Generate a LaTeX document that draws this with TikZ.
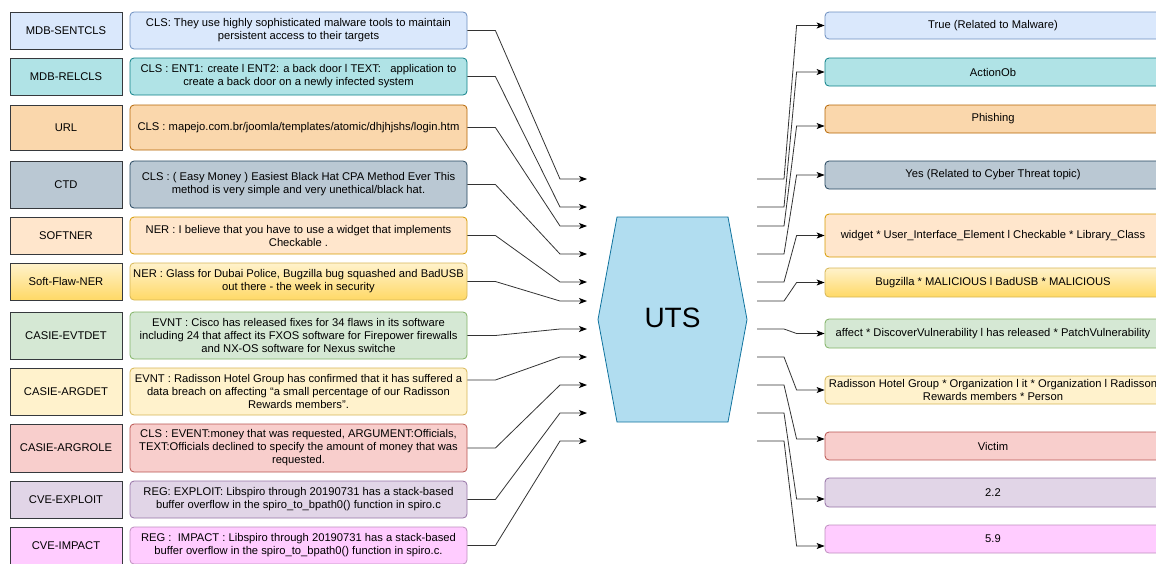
\documentclass[tikz,border=0pt]{standalone}
\usepackage{fontspec}
\setmainfont{Liberation Sans}
\usepackage{tikz}
\usetikzlibrary{arrows.meta, positioning, calc}
\definecolor{sentfill}{HTML}{DAE8FC}
\definecolor{sentline}{HTML}{6C8EBF}
\definecolor{relfill}{HTML}{B0E3E6}
\definecolor{relline}{HTML}{0E8088}
\definecolor{urlfill}{HTML}{FAD7AC}
\definecolor{urlline}{HTML}{B46504}
\definecolor{ctdfill}{HTML}{BAC8D3}
\definecolor{ctdline}{HTML}{23445D}
\definecolor{nerfill}{HTML}{FFE6CC}
\definecolor{nerline}{HTML}{D79B00}
\definecolor{flawtop}{HTML}{FFF2CC}
\definecolor{flawbottom}{HTML}{FFD966}
\definecolor{evtfill}{HTML}{D5E8D4}
\definecolor{evtline}{HTML}{82B366}
\definecolor{argfill}{HTML}{FFF2CC}
\definecolor{argline}{HTML}{D6B656}
\definecolor{rolefill}{HTML}{F8CECC}
\definecolor{roleline}{HTML}{B85450}
\definecolor{expfill}{HTML}{E1D5E7}
\definecolor{expline}{HTML}{9673A6}
\definecolor{impfill}{HTML}{FFCCFF}
\definecolor{impline}{HTML}{BF8FBF}
\definecolor{utsfill}{HTML}{B1DDF0}
\definecolor{utsline}{HTML}{10739E}
\definecolor{taskline}{HTML}{36393D}
\definecolor{linkgray}{HTML}{333333}
\newcommand{\boxfont}{\fontsize{11.2}{13}\selectfont}

\begin{document}
\begin{tikzpicture}[x=1pt, y=-1pt,
    taskbox/.style={
        draw=taskline,
        line width=0.8pt,
        minimum width=112pt,
        inner sep=0pt,
        font=\boxfont,
        align=center
    },
    samplebox/.style={
        line width=0.8pt,
        rounded corners=4pt,
        minimum width=337pt,
        inner sep=0pt,
        font=\boxfont,
        align=center
    },
    outbox/.style={
        line width=0.8pt,
        rounded corners=4pt,
        minimum width=336pt,
        inner sep=0pt,
        font=\boxfont,
        align=center
    },
    link/.style={
        draw=linkgray,
        line width=0.8pt,
        -{Stealth[length=8pt, width=6pt, inset=2pt, color=black]}
    }
]
\useasboundingbox (0,0) rectangle (1156,563);

% Task names
\node[taskbox, fill=sentfill, minimum height=37pt] (T1) at (66,30.5) {MDB-SENTCLS};
\node[taskbox, fill=relfill, minimum height=37pt] (T2) at (66,76.5) {MDB-RELCLS};
\node[taskbox, fill=urlfill, minimum height=45pt] (T3) at (66,127.5) {URL};
\node[taskbox, fill=ctdfill, minimum height=47pt] (T4) at (66,184.5) {CTD};
\node[taskbox, fill=nerfill, minimum height=37pt] (T5) at (66,235.5) {SOFTNER};
\node[taskbox, top color=flawtop, bottom color=flawbottom, minimum height=37pt] (T6) at (66,281.5) {Soft-Flaw-NER};
\node[taskbox, fill=evtfill, minimum height=47pt] (T7) at (66,335.5) {CASIE-EVTDET};
\node[taskbox, fill=argfill, minimum height=47pt] (T8) at (66,391.5) {CASIE-ARGDET};
\node[taskbox, fill=rolefill, minimum height=48pt] (T9) at (66,448) {CASIE-ARGROLE};
\node[taskbox, fill=expfill, minimum height=37pt] (T10) at (66,499.5) {CVE-EXPLOIT};
\node[taskbox, fill=impfill, minimum height=37pt] (T11) at (66,545.5) {CVE-IMPACT};

% Input samples
\node[samplebox, fill=sentfill, draw=sentline, minimum height=37pt] (S1) at (298.5,30.5) {CLS: They use highly sophisticated malware tools to maintain\\persistent access to their targets};
\node[samplebox, fill=relfill, draw=relline, minimum height=37pt] (S2) at (298.5,76.5) {CLS : ENT1: create l ENT2: a back door l TEXT:\ \ \ application to\\create a back door on a newly infected system};
\node[samplebox, fill=urlfill, draw=urlline, minimum height=45pt] (S3) at (298.5,127.5) {CLS : mapejo.com.br/joomla/templates/atomic/dhjhjshs/login.htm};
\node[samplebox, fill=ctdfill, draw=ctdline, minimum height=47pt] (S4) at (298.5,184.5) {CLS : ( Easy Money ) Easiest Black Hat CPA Method Ever This\\method is very simple and very unethical/black hat.};
\node[samplebox, fill=nerfill, draw=nerline, minimum height=37pt] (S5) at (298.5,235.5) {NER : I believe that you have to use a widget that implements\\Checkable .};
\node[samplebox, top color=flawtop, bottom color=flawbottom, draw=argline, minimum height=37pt] (S6) at (298.5,281.5) {NER : Glass for Dubai Police, Bugzilla bug squashed and BadUSB\\out there - the week in security};
\node[samplebox, fill=evtfill, draw=evtline, minimum height=47pt] (S7) at (298.5,335.5) {EVNT : Cisco has released fixes for 34 flaws in its software\\including 24 that affect its FXOS software for Firepower firewalls\\and NX-OS software for Nexus switche};
\node[samplebox, fill=argfill, draw=argline, minimum height=47pt] (S8) at (298.5,391.5) {EVNT : Radisson Hotel Group has confirmed that it has suffered a\\data breach on affecting “a small percentage of our Radisson\\Rewards members”.};
\node[samplebox, fill=rolefill, draw=roleline, minimum height=48pt] (S9) at (298.5,448) {CLS : EVENT:money that was requested, ARGUMENT:Officials,\\TEXT:Officials declined to specify the amount of money that was\\requested.};
\node[samplebox, fill=expfill, draw=expline, minimum height=37pt] (S10) at (298.5,499.5) {REG: EXPLOIT: Libspiro through 20190731 has a stack-based\\buffer overflow in the spiro\_to\_bpath0() function in spiro.c};
\node[samplebox, fill=impfill, draw=impline, minimum height=37pt] (S11) at (298.5,545.5) {REG :\ \ IMPACT : Libspiro through 20190731 has a stack-based\\buffer overflow in the spiro\_to\_bpath0() function in spiro.c.};

% Unified model
\draw[fill=utsfill, draw=utsline, line width=0.8pt] (617,217) -- (728,217) -- (747,319.5) -- (728,422) -- (617,422) -- (598,319.5) -- cycle;
\node[font=\fontsize{28}{34}\selectfont] (uts) at (672.5,318) {UTS};

% Entry and exit points beside the model
\coordinate (in1) at (587,179);   \coordinate (out1) at (757,179);
\coordinate (in2) at (587,207);   \coordinate (out2) at (757,207);
\coordinate (in3) at (587,226);   \coordinate (out3) at (757,226);
\coordinate (in4) at (587,254);   \coordinate (out4) at (757,254);
\coordinate (in5) at (587,282);   \coordinate (out5) at (757,282);
\coordinate (in6) at (587,301);   \coordinate (out6) at (757,301);
\coordinate (in7) at (587,329);   \coordinate (out7) at (757,329);
\coordinate (in8) at (587,357);   \coordinate (out8) at (757,357);
\coordinate (in9) at (587,385);   \coordinate (out9) at (757,385);
\coordinate (in10) at (587,413);  \coordinate (out10) at (757,413);
\coordinate (in11) at (587,441);  \coordinate (out11) at (757,441);

% Outputs
\node[outbox, fill=sentfill, draw=sentline, minimum height=27pt] (R1) at (993,25.5) {True (Related to Malware)};
\node[outbox, fill=relfill, draw=relline, minimum height=28pt] (R2) at (993,72) {ActionOb};
\node[outbox, fill=urlfill, draw=urlline, minimum height=28pt] (R3) at (993,119) {Phishing};
\node[outbox, fill=ctdfill, draw=ctdline, minimum height=28pt] (R4) at (993,175) {Yes (Related to Cyber Threat topic)};
\node[outbox, fill=nerfill, draw=nerline, minimum height=43pt] (R5) at (993,235.5) {widget * User\_Interface\_Element l Checkable * Library\_Class};
\node[outbox, top color=flawtop, bottom color=flawbottom, draw=argline, minimum height=29pt] (R6) at (993,282.5) {Bugzilla * MALICIOUS l BadUSB * MALICIOUS};
\node[outbox, fill=evtfill, draw=evtline, minimum height=29pt] (R7) at (993,333.5) {affect * DiscoverVulnerability l has released * PatchVulnerability};
\node[outbox, fill=argfill, draw=argline, minimum height=28pt, font=\fontsize{11.2}{12.5}\selectfont] (R8) at (993,390) {Radisson Hotel Group * Organization l it * Organization l Radisson\\Rewards members * Person};
\node[outbox, fill=rolefill, draw=roleline, minimum height=28pt] (R9) at (993,446) {Victim};
\node[outbox, fill=expfill, draw=expline, minimum height=29pt] (R10) at (993,492.5) {2.2};
\node[outbox, fill=impfill, draw=impline, minimum height=28pt] (R11) at (993,539) {5.9};

% Samples into the model
\draw[link] (S1.east) -- ++(28,0) -- ([xshift=-27pt]in1) -- (in1);
\draw[link] (S2.east) -- ++(28,0) -- ([xshift=-27pt]in2) -- (in2);
\draw[link] (S3.east) -- ++(28,0) -- ([xshift=-27pt]in3) -- (in3);
\draw[link] (S4.east) -- ++(28,0) -- ([xshift=-27pt]in4) -- (in4);
\draw[link] (S5.east) -- ++(28,0) -- ([xshift=-27pt]in5) -- (in5);
\draw[link] (S6.east) -- ++(28,0) -- ([xshift=-27pt]in6) -- (in6);
\draw[link] (S7.east) -- ++(28,0) -- ([xshift=-27pt]in7) -- (in7);
\draw[link] ([yshift=11.5pt]S8.east) -- ++(28,0) -- ([xshift=-27pt]in8) -- (in8);
\draw[link] (S9.east) -- ++(28,0) -- ([xshift=-27pt]in9) -- (in9);
\draw[link] (S10.east) -- ++(28,0) -- ([xshift=-27pt]in10) -- (in10);
\draw[link] (S11.east) -- ++(28,0) -- ([xshift=-27pt]in11) -- (in11);

% Model to outputs
\draw[link] (out1) -- ++(27,0) -- ([xshift=-28pt]R1.west) -- (R1.west);
\draw[link] (out2) -- ++(27,0) -- ([xshift=-28pt]R2.west) -- (R2.west);
\draw[link] (out3) -- ++(27,0) -- ([xshift=-28pt, yshift=-7pt]R3.west) -- ([yshift=-7pt]R3.west);
\draw[link] (out4) -- ++(27,0) -- ([xshift=-28pt]R4.west) -- (R4.west);
\draw[link] (out5) -- ++(27,0) -- ([xshift=-28pt]R5.west) -- (R5.west);
\draw[link] (out6) -- ++(27,0) -- ([xshift=-28pt]R6.west) -- (R6.west);
\draw[link] (out7) -- ++(27,0) -- ([xshift=-28pt]R7.west) -- (R7.west);
\draw[link] (out8) -- ++(27,0) -- ([xshift=-28pt]R8.west) -- (R8.west);
\draw[link] (out9) -- ++(27,0) -- ([xshift=-28pt, yshift=7pt]R9.west) -- ([yshift=7pt]R9.west);
\draw[link] (out10) -- ++(27,0) -- ([xshift=-28pt, yshift=-6.5pt]R10.west) -- ([yshift=-6.5pt]R10.west);
\draw[link] (out11) -- ++(27,0) -- ([xshift=-28pt, yshift=-7pt]R11.west) -- ([yshift=-7pt]R11.west);

\end{tikzpicture}
\end{document}
